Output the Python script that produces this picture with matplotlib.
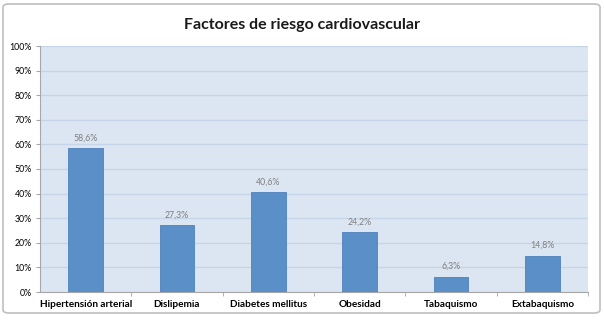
import matplotlib
matplotlib.use("Agg")
import matplotlib.pyplot as plt
from matplotlib.patches import FancyBboxPatch
from matplotlib.ticker import MultipleLocator, FuncFormatter

categories = ["Hipertensión arterial", "Dislipemia", "Diabetes mellitus",
              "Obesidad", "Tabaquismo", "Extabaquismo"]
values = [58.6, 27.3, 40.6, 24.2, 6.3, 14.8]
title = "Factores de riesgo cardiovascular"

plt.rcParams['font.family'] = ['Lato', 'DejaVu Sans']

fig = plt.figure(figsize=(6.04, 3.2), dpi=100)

# rounded frame around the whole chart
frame = FancyBboxPatch((3 / 604, 7 / 320), 597 / 604, 309 / 320,
                       boxstyle="round,pad=0,rounding_size=0.01",
                       transform=fig.transFigure, facecolor="none",
                       edgecolor="#bfbfbf", linewidth=1.2, zorder=0)
fig.patches.append(frame)

ax = fig.add_axes([40 / 604, 28 / 320, 548 / 604, 246 / 320])
ax.set_facecolor("#dce6f2")

x = range(len(categories))
ax.bar(x, values, width=0.38, color="#5b8fc7", edgecolor="#4f81bd",
       linewidth=0.6, zorder=3)

for xi, v in zip(x, values):
    ax.text(xi, v + 2.2, f"{v:.1f}%".replace(".", ","), ha="center",
            va="bottom", fontsize=6.3, color="#7f7f7f")

ax.set_ylim(0, 100)
ax.set_xlim(-0.5, len(categories) - 0.5)
ax.yaxis.set_major_locator(MultipleLocator(10))
ax.yaxis.set_major_formatter(FuncFormatter(lambda v, p: f"{v:.0f}%"))
ax.grid(axis="y", color="#c6d4e8", linewidth=0.9, zorder=1)
ax.set_axisbelow(True)

ax.set_xticks(list(x))
ax.set_xticklabels(categories, fontsize=7.2, fontweight="bold")
ax.tick_params(axis="x", length=0, pad=6)
ax.set_xticks([i + 0.5 for i in range(len(categories))], minor=True)
ax.tick_params(axis="x", which="minor", length=3, color="#a6a6a6")
ax.tick_params(axis="y", labelsize=6.3, length=3, color="#a6a6a6", pad=3)

for side in ("top", "right"):
    ax.spines[side].set_visible(False)
for side in ("left", "bottom"):
    ax.spines[side].set_color("#a6a6a6")
    ax.spines[side].set_linewidth(0.8)

fig.text(0.5, 1 - 25 / 320, title, ha="center", va="center",
         fontsize=11.5, fontweight="bold", color="#1a1a1a")

fig.savefig("out.png", dpi=100)
